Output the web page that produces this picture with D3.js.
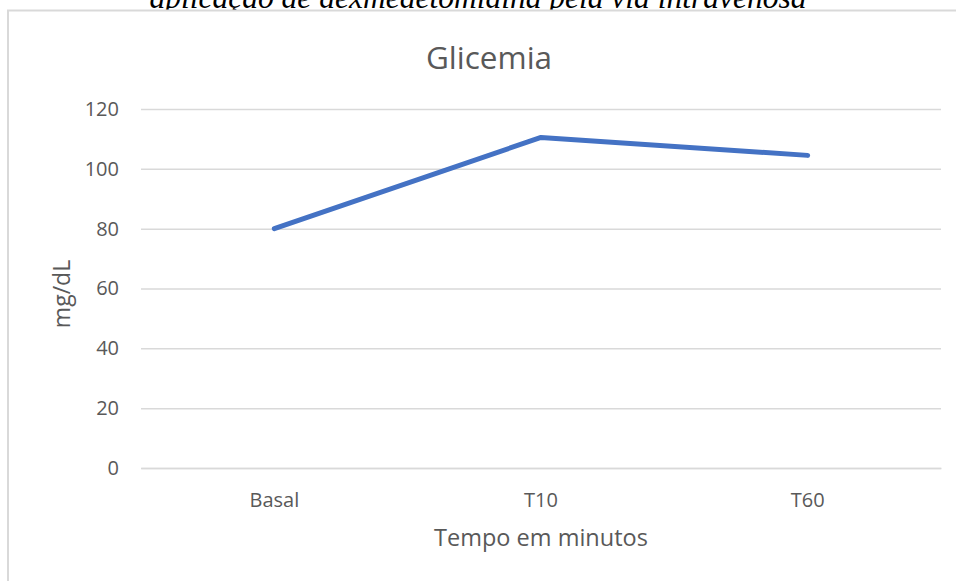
<!DOCTYPE html>
<html>
<head>
<meta charset="utf-8">
<script src="https://cdn.jsdelivr.net/npm/d3@7"></script>
<style>
  html, body { margin: 0; padding: 0; background: #fff; }
  svg { display: block; }
  .tick text { font-family: "Open Sans", sans-serif; }
</style>
</head>
<body>
<script>
// Glycemia over time
const categories = ["Basal", "T10", "T60"];
const glicemia = [80, 110.5, 104.5];
const yTicks = [0, 20, 40, 60, 80, 100, 120];
const chartTitle = "Glicemia";
const xTitle = "Tempo em minutos";
const yTitle = "mg/dL";
const caption = "aplicação de dexmedetomidina pela via intravenosa";

const W = 956, H = 581;
const svg = d3.select("body").append("svg").attr("width", W).attr("height", H);

const font = '"Open Sans", sans-serif';
const grey = "#595959";

// caption of the figure above the chart frame (runs off the top of the page)
svg.append("text")
  .attr("x", 478).attr("y", 7.5)
  .attr("text-anchor", "middle")
  .attr("font-family", '"Liberation Serif", "Times New Roman", serif')
  .attr("font-style", "italic")
  .attr("font-size", 31.5)
  .attr("fill", "#000")
  .text(caption);

// chart frame
svg.append("rect")
  .attr("x", 8).attr("y", 10.5)
  .attr("width", 1000).attr("height", 700)
  .attr("fill", "#fff")
  .attr("stroke", "#d9d9d9").attr("stroke-width", 2);

const plot = { left: 141, right: 941, top: 109, bottom: 468 };

const x = d3.scaleBand().domain(categories).range([plot.left, plot.right]);
const y = d3.scaleLinear().domain([0, 120]).range([plot.bottom, plot.top]);

// gridlines + y tick labels
const yAxis = d3.axisLeft(y).tickValues(yTicks)
  .tickSize(-(plot.right - plot.left)).tickPadding(22);
const gy = svg.append("g").attr("transform", `translate(${plot.left},0)`).call(yAxis);
gy.select(".domain").remove();
gy.selectAll(".tick line").attr("stroke", "#d9d9d9").attr("stroke-width", 1.5);
gy.selectAll(".tick text").attr("fill", grey).attr("font-size", 20);

// x axis labels
const xAxis = d3.axisBottom(x).tickSize(0).tickPadding(25);
const gx = svg.append("g").attr("transform", `translate(0,${plot.bottom})`).call(xAxis);
gx.select(".domain").attr("stroke", "#d9d9d9").attr("stroke-width", 1.5);
gx.selectAll(".tick text").attr("fill", grey).attr("font-size", 20);

// series line
const line = d3.line()
  .x((d, i) => x(categories[i]) + x.bandwidth() / 2)
  .y(d => y(d));
svg.append("path")
  .datum(glicemia)
  .attr("d", line)
  .attr("fill", "none")
  .attr("stroke", "#4472c4")
  .attr("stroke-width", 5)
  .attr("stroke-linecap", "round")
  .attr("stroke-linejoin", "round");

// titles
svg.append("text")
  .attr("x", 489).attr("y", 69)
  .attr("text-anchor", "middle")
  .attr("font-family", font).attr("font-size", 31.5)
  .attr("fill", grey).text(chartTitle);

svg.append("text")
  .attr("x", 541).attr("y", 546)
  .attr("text-anchor", "middle")
  .attr("font-family", font).attr("font-size", 23.5)
  .attr("fill", grey).text(xTitle);

svg.append("text")
  .attr("transform", "translate(70,294) rotate(-90)")
  .attr("text-anchor", "middle")
  .attr("font-family", font).attr("font-size", 23)
  .attr("fill", grey).text(yTitle);
</script>
</body>
</html>
